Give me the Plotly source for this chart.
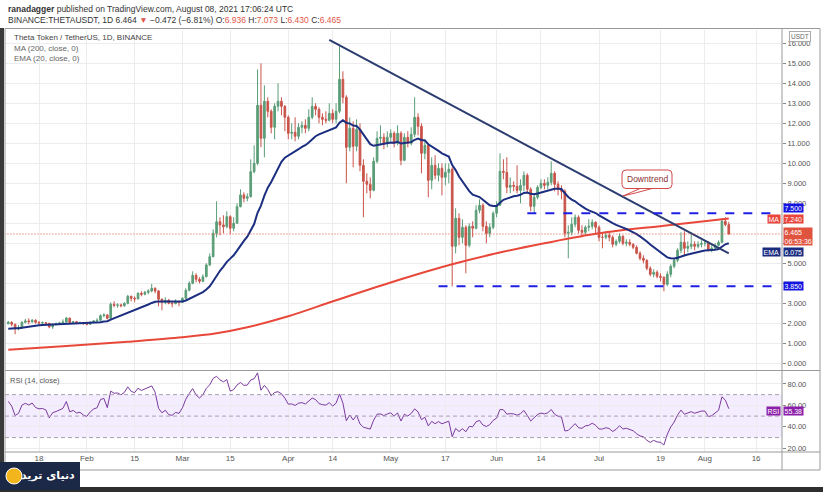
import pandas as pd
import plotly.graph_objects as go

# ---------------- DATA ----------------
start_date = "2021-01-09"
first_open = 1.98

jan_close = [2.05, 1.95, 1.72, 1.78, 2.05, 2.12, 2.08, 2.15, 2.05, 2.02, 2.03, 2.00, 1.82, 1.95, 1.98, 2.02, 2.06, 2.26, 2.04, 2.08, 2.02, 2.04, 1.98]
jan_high = [2.12, 2.10, 1.98, 1.92, 2.10, 2.22, 2.25, 2.22, 2.20, 2.10, 2.10, 2.06, 2.02, 2.00, 2.04, 2.07, 2.20, 2.32, 2.28, 2.12, 2.12, 2.08, 2.05]
jan_low = [1.95, 1.85, 1.45, 1.65, 1.72, 2.00, 1.95, 2.02, 1.98, 1.95, 1.95, 1.90, 1.75, 1.72, 1.90, 1.94, 1.98, 2.02, 1.98, 1.98, 1.96, 1.98, 1.93]

feb_close = [1.95, 2.05, 2.12, 2.15, 2.38, 2.42, 2.25, 2.95, 2.90, 2.92, 2.88, 3.00, 3.35, 3.25, 3.22, 3.50, 3.45, 3.55, 3.62, 3.75, 3.62, 3.20, 3.05, 3.15, 3.00, 2.98, 3.08, 3.05]
feb_high = [2.02, 2.10, 2.16, 2.25, 2.45, 2.50, 2.45, 3.05, 3.10, 3.00, 2.98, 3.05, 3.42, 3.38, 3.35, 3.55, 3.60, 3.62, 3.70, 3.97, 3.80, 3.65, 3.25, 3.30, 3.22, 3.10, 3.20, 3.12]
feb_low = [1.90, 1.94, 2.02, 2.05, 2.12, 2.30, 2.20, 2.22, 2.80, 2.78, 2.80, 2.82, 2.95, 3.10, 3.05, 3.20, 3.35, 3.40, 3.45, 3.55, 3.50, 2.85, 2.65, 2.95, 2.95, 2.80, 2.95, 2.85]

mar_close = [3.25, 3.65, 4.00, 4.40, 4.20, 4.10, 4.33, 4.92, 5.33, 6.50, 7.08, 6.92, 6.83, 7.33, 6.75, 7.00, 7.83, 8.42, 8.25, 8.33, 9.58, 10.00, 12.90, 11.25, 13.10, 12.60, 11.80, 12.85, 13.10, 12.85, 12.30]
mar_high = [3.30, 3.75, 4.10, 4.60, 4.50, 4.30, 4.45, 5.00, 5.50, 6.70, 8.10, 7.30, 7.40, 7.60, 7.40, 7.30, 8.00, 8.70, 8.55, 8.50, 10.20, 10.90, 14.70, 15.00, 13.90, 13.30, 12.70, 13.00, 14.00, 13.30, 12.90]
mar_low = [3.02, 3.20, 3.60, 3.95, 4.05, 4.00, 4.05, 4.30, 4.85, 5.30, 6.30, 6.40, 6.50, 6.75, 6.45, 6.60, 7.00, 7.80, 8.05, 8.10, 8.30, 9.50, 9.90, 10.80, 10.30, 12.30, 11.50, 11.20, 12.60, 12.40, 11.60]

apr_close = [11.50, 11.55, 11.35, 11.80, 11.90, 11.75, 12.30, 12.85, 12.70, 12.30, 12.20, 12.15, 12.50, 12.20, 12.60, 14.20, 13.30, 10.80, 11.75, 10.85, 11.70, 9.90, 9.10, 8.95, 8.65, 10.10, 11.25, 11.30, 11.00, 11.30]
apr_high = [12.40, 12.00, 12.30, 12.00, 12.10, 12.20, 12.70, 13.30, 13.00, 12.80, 12.50, 12.60, 13.00, 12.70, 13.00, 15.85, 14.60, 13.40, 12.30, 12.10, 12.20, 12.00, 10.20, 9.50, 9.30, 10.30, 11.60, 11.90, 11.50, 11.60]
apr_low = [11.20, 11.20, 11.10, 11.20, 11.50, 11.50, 11.60, 12.20, 12.40, 12.00, 11.90, 12.00, 12.10, 12.00, 12.00, 12.50, 13.00, 9.00, 10.60, 9.80, 10.60, 9.60, 7.30, 8.50, 8.25, 8.60, 10.00, 10.90, 10.70, 10.80]

may_close = [11.50, 11.00, 11.50, 10.15, 11.30, 11.00, 11.45, 12.30, 11.85, 10.50, 10.90, 9.15, 9.90, 9.40, 9.75, 9.30, 9.55, 9.70, 5.85, 7.25, 6.30, 6.80, 5.90, 6.85, 6.75, 7.65, 7.90, 6.85, 6.50, 6.80, 7.50]
may_high = [11.70, 11.60, 11.90, 11.60, 11.50, 11.60, 11.80, 13.30, 12.50, 12.00, 11.20, 11.00, 10.30, 10.40, 10.00, 10.00, 10.00, 10.00, 9.80, 7.75, 7.50, 7.20, 6.90, 7.00, 7.10, 7.90, 8.20, 8.00, 7.10, 7.00, 7.60]
may_low = [11.10, 10.80, 10.90, 9.90, 10.10, 10.80, 10.90, 11.30, 11.40, 9.50, 10.20, 8.30, 8.70, 9.20, 9.10, 8.40, 8.90, 9.00, 3.85, 5.50, 5.90, 6.00, 4.50, 5.80, 6.30, 6.70, 7.50, 6.60, 6.00, 6.30, 6.70]

jun_close = [7.90, 9.60, 9.55, 8.80, 8.90, 8.85, 8.65, 8.90, 9.40, 8.70, 7.85, 8.30, 8.80, 9.00, 8.90, 9.05, 9.50, 8.95, 8.70, 8.60, 6.50, 6.55, 6.95, 7.30, 6.65, 6.55, 6.80, 6.85, 7.05, 6.80]
jun_high = [8.10, 10.50, 10.20, 10.30, 9.30, 9.10, 9.90, 9.20, 9.60, 9.50, 8.80, 8.50, 8.90, 9.20, 9.20, 9.30, 10.10, 9.60, 9.10, 8.90, 8.70, 6.90, 7.30, 7.45, 7.40, 6.90, 6.90, 7.20, 7.20, 7.10]
jun_low = [7.30, 7.90, 9.20, 8.50, 8.50, 8.60, 8.50, 8.00, 8.60, 8.50, 7.60, 7.50, 8.20, 8.70, 8.70, 8.70, 8.90, 8.60, 8.40, 8.20, 6.30, 5.25, 6.40, 6.80, 6.50, 6.30, 6.40, 6.60, 6.70, 6.50]

jul_close = [6.30, 6.30, 6.40, 6.30, 5.95, 6.10, 6.35, 6.00, 6.05, 5.95, 5.80, 5.50, 5.25, 5.15, 4.75, 4.45, 4.55, 4.35, 4.30, 3.95, 4.45, 4.85, 5.15, 5.65, 6.05, 5.75, 5.85, 5.95, 5.85, 5.95, 6.00]
jul_high = [6.90, 6.50, 6.60, 6.60, 6.40, 6.20, 6.50, 6.40, 6.20, 6.20, 6.00, 5.90, 5.60, 5.40, 5.20, 4.85, 4.70, 4.65, 4.50, 4.35, 4.60, 4.95, 5.25, 5.75, 6.55, 6.60, 6.10, 6.55, 6.10, 6.10, 6.15]
jul_low = [6.10, 5.75, 6.20, 6.10, 5.80, 5.85, 6.00, 5.90, 5.85, 5.85, 5.70, 5.45, 5.15, 5.00, 4.65, 4.35, 4.30, 4.25, 4.10, 3.60, 3.85, 4.30, 4.75, 5.05, 5.50, 5.40, 5.55, 5.70, 5.65, 5.75, 5.80]

aug_close = [6.00, 5.70, 5.75, 5.90, 6.05, 7.10, 6.936, 6.465]
aug_high = [6.15, 6.10, 5.90, 6.00, 6.15, 7.25, 7.30, 7.073]
aug_low = [5.85, 5.60, 5.55, 5.70, 5.85, 6.00, 6.85, 6.430]

# 200-day MA
ma200_dates = ["2021-01-09", "2021-01-25", "2021-02-13", "2021-03-01", "2021-03-11", "2021-03-20", "2021-04-01",
               "2021-04-15", "2021-05-04", "2021-05-19", "2021-06-01", "2021-06-15", "2021-07-01", "2021-07-20", "2021-08-08"]
ma200_values = [0.68, 0.85, 1.08, 1.30, 1.50, 1.80, 2.35, 3.15, 4.20, 4.95, 5.50, 6.00, 6.50, 6.88, 7.24]

ema_seed = 1.70
rsi_seed_gain, rsi_seed_loss = 0.065, 0.040

trend_dates = ["2021-04-13", "2021-08-08"]
trend_prices = [16.17, 5.50]
level_values = [7.5, 3.85]
level_starts = ["2021-06-10", "2021-05-15"]
level_end = "2021-08-21"
last_price = 6.465
ema_label = "6.075"
ma_label = "7.240"
rsi_label = "55.38"
countdown = "06:53:36"

x_tickvals = ["2021-01-18", "2021-02-01", "2021-02-15", "2021-03-01", "2021-03-15", "2021-04-01", "2021-04-14",
              "2021-05-01", "2021-05-17", "2021-06-01", "2021-06-14", "2021-07-01", "2021-07-19", "2021-08-01", "2021-08-16"]
x_ticktext = ["18", "Feb", "15", "Mar", "15", "Apr", "14", "May", "17", "Jun", "14", "Jul", "19", "Aug", "16"]
price_ticks = list(range(0, 17))
price_hidden = [4, 6, 7]          # tick labels covered by the axis boxes in the original
rsi_ticks = [20, 40, 60, 80]

# ---------------- DERIVED ----------------
close = jan_close + feb_close + mar_close + apr_close + may_close + jun_close + jul_close + aug_close
high = jan_high + feb_high + mar_high + apr_high + may_high + jun_high + jul_high + aug_high
low = jan_low + feb_low + mar_low + apr_low + may_low + jun_low + jul_low + aug_low
opens = [first_open] + close[:-1]
dates = pd.date_range(start_date, periods=len(close), freq="D")

alpha = 2 / 21
ema, prev = [], ema_seed
for c in close:
    prev = alpha * c + (1 - alpha) * prev
    ema.append(prev)

rsi, ag, al, pc = [], rsi_seed_gain, rsi_seed_loss, first_open
for c in close:
    ch = c - pc
    ag = (ag * 13 + max(ch, 0)) / 14
    al = (al * 13 + max(-ch, 0)) / 14
    rsi.append(100 - 100 / (1 + ag / al))
    pc = c

price_ticktext = ["" if v in price_hidden else f"{v:.3f}" for v in price_ticks]

# ---------------- STYLE / LAYOUT ----------------
W, H = 823, 492
ML, MR, MT, MB = 5, 41, 30, 40
PW, PH = W - ML - MR, H - MT - MB


def px(x):
    return (x - ML) / PW


def py(y):
    return (H - MB - y) / PH


UP, DOWN = "#5a9e78", "#c9544a"
FONT = "Liberation Sans"
GRID = "#ececec"

fig = go.Figure()
fig.add_trace(go.Candlestick(x=dates, open=opens, high=high, low=low, close=close,
                             increasing=dict(line=dict(color=UP, width=1), fillcolor=UP),
                             decreasing=dict(line=dict(color=DOWN, width=1), fillcolor=DOWN),
                             whiskerwidth=0, hoverinfo="skip", yaxis="y"))
fig.add_trace(go.Scatter(x=pd.to_datetime(ma200_dates), y=ma200_values, mode="lines", line=dict(color="#e8483a", width=2, shape="spline"), yaxis="y"))
fig.add_trace(go.Scatter(x=dates, y=ema, mode="lines", line=dict(color="#1c2e80", width=2), yaxis="y"))
fig.add_trace(go.Scatter(x=pd.to_datetime(trend_dates), y=trend_prices, mode="lines", line=dict(color="#2b3c70", width=2), yaxis="y"))
for lv, st in zip(level_values, level_starts):
    fig.add_trace(go.Scatter(x=pd.to_datetime([st, level_end]), y=[lv, lv], mode="lines",
                             line=dict(color="#1f1fe6", width=2, dash="dash"), yaxis="y"))
fig.add_trace(go.Scatter(x=[dates[0] - pd.Timedelta(days=2), pd.Timestamp("2021-08-25")], y=[last_price, last_price], mode="lines",
                         line=dict(color="#e0533e", width=1, dash="1px,2px"), yaxis="y"))
fig.add_trace(go.Scatter(x=dates, y=rsi, mode="lines", line=dict(color="#7b3a9e", width=1), yaxis="y2"))

shapes = []
shapes.append(dict(type="rect", xref="paper", yref="y2", x0=0, x1=1, y0=30, y1=70, fillcolor="rgba(170,110,255,0.13)", line=dict(width=0), layer="below"))
for lv in (70, 50, 30):
    shapes.append(dict(type="line", xref="paper", yref="y2", x0=0, x1=1, y0=lv, y1=lv, line=dict(color="#a9a0b0", width=1, dash="4px,3px")))
shapes.append(dict(type="line", xref="paper", yref="paper", x0=px(5), x1=px(820), y0=py(370.5), y1=py(370.5), line=dict(color="#9a9a9a", width=1)))
shapes.append(dict(type="rect", xref="paper", yref="paper", x0=px(5), x1=px(820), y0=py(470), y1=py(28.5), line=dict(color="#9a9a9a", width=1)))
shapes.append(dict(type="line", xref="paper", yref="paper", x0=px(5), x1=px(820), y0=py(452), y1=py(452), line=dict(color="#9a9a9a", width=1)))
shapes.append(dict(type="line", xref="paper", yref="paper", x0=px(782), x1=px(782), y0=py(470), y1=py(28.5), line=dict(color="#9a9a9a", width=1)))
shapes.append(dict(type="rect", xref="paper", yref="paper", x0=px(0), x1=px(4), y0=py(488), y1=py(28), fillcolor="#3a3a3a", line=dict(width=0)))
shapes.append(dict(type="rect", xref="paper", yref="paper", x0=px(0), x1=px(823), y0=py(492), y1=py(487), fillcolor="#2e2e2e", line=dict(width=0)))
shapes.append(dict(type="rect", xref="paper", yref="paper", x0=px(0), x1=px(80), y0=py(490), y1=py(462), fillcolor="#1b2846", line=dict(width=0)))
shapes.append(dict(type="circle", xref="paper", yref="paper", x0=px(6), x1=px(22), y0=py(484), y1=py(468), fillcolor="#f2b51c", line=dict(color="#ffffff", width=1)))


def rrect(x0, y0, x1, y1, r):
    X0, X1 = px(x0), px(x1)
    Y0, Y1 = py(y0), py(y1)
    rx, ry = r / PW, r / PH
    return (f"M {X0+rx},{Y0} L {X1-rx},{Y0} Q {X1},{Y0} {X1},{Y0-ry} L {X1},{Y1+ry} Q {X1},{Y1} {X1-rx},{Y1} "
            f"L {X0+rx},{Y1} Q {X0},{Y1} {X0},{Y1+ry} L {X0},{Y0-ry} Q {X0},{Y0} {X0+rx},{Y0} Z")


shapes.append(dict(type="path", xref="paper", yref="paper", path=rrect(622, 170, 672, 188.5, 4), fillcolor="#ffffff", line=dict(color="#d24a4a", width=1)))
tail = (f"M {px(640)},{py(188.5)} Q {px(632)},{py(192)} {px(623)},{py(196)} Q {px(636)},{py(193)} {px(652)},{py(188.5)}")
shapes.append(dict(type="path", xref="paper", yref="paper", path=tail, line=dict(color="#d24a4a", width=1)))

ann = []


def text(x, y, t, size=8, color="#444", xanchor="left", family=FONT, **kw):
    ann.append(dict(xref="paper", yref="paper", x=px(x), y=py(y), text=t, showarrow=False, xanchor=xanchor, yanchor="middle",
                    font=dict(family=family, size=size, color=color), **kw))


R = "#e0564a"
text(6, 9, "<b>ranadagger</b> published on TradingView.com, August 08, 2021 17:06:24 UTC", size=8.5, color="#333")
text(6, 20, f"BINANCE:THETAUSDT, 1D 6.464 <span style='color:{R}'>▼</span> −0.472 (−6.81%) O:<span style='color:{R}'>6.936</span> "
            f"H:<span style='color:{R}'>7.073</span> L:<span style='color:{R}'>6.430</span> C:<span style='color:{R}'>6.465</span>", size=8.5, color="#333")
text(12, 38, "Theta Token / TetherUS, 1D, BINANCE", size=8, color="#444")
text(12, 48, "MA (200, close, 0)", size=8, color="#666")
text(12, 58, "EMA (20, close, 0)", size=8, color="#666")
text(8, 380, "RSI (14, close)", size=7.5, color="#555")
text(647, 179, "Downtrend", size=8.5, color="#8a2f2f", xanchor="center")
text(800, 36, "USDT", size=6.5, color="#666", xanchor="center", bgcolor="#ffffff", bordercolor="#aaaaaa", borderwidth=1, borderpad=1)


def box(x, y, t, bg, xanchor="left"):
    text(x, y, t, size=7, color="#ffffff", xanchor=xanchor, bgcolor=bg, borderpad=0.5)


BLUE = "#1414e0"
box(783, 208.5, f"{level_values[0]:.3f}", BLUE)
box(783, 219, ma_label, "#e8453c")
box(781, 219, "MA", "#e8453c", xanchor="right")
ann.append(dict(xref="paper", yref="paper", x=px(783), y=py(236.5), text=f"{last_price:.3f}<br>{countdown}", showarrow=False, xanchor="left", yanchor="middle",
                align="left", bgcolor="#e0533e", borderpad=0.5, font=dict(family=FONT, size=7, color="#ffffff")))
box(783, 252, ema_label, "#1a2c80")
box(781, 252, "EMA", "#1a2c80", xanchor="right")
box(783, 286.3, f"{level_values[1]:.3f}", BLUE)
box(783, 411, rsi_label, "#8b1fa9")
box(781, 411, "RSI", "#8b1fa9", xanchor="right")
text(77, 476, "<b>دنیای ترید</b>", size=11, color="#ffffff", xanchor="right", family="DejaVu Sans")

fig.update_layout(
    width=W, height=H, margin=dict(l=ML, r=MR, t=MT, b=MB), paper_bgcolor="#ffffff", plot_bgcolor="#ffffff",
    showlegend=False, shapes=shapes, annotations=ann, hovermode=False,
    xaxis=dict(type="date", range=["2021-01-08 01:00", "2021-08-23 14:00"], anchor="y2", tickvals=x_tickvals, ticktext=x_ticktext,
               showgrid=True, gridcolor=GRID, gridwidth=1, zeroline=False, showline=False, ticks="", rangeslider=dict(visible=False),
               tickfont=dict(family=FONT, size=8, color="#555")),
    yaxis=dict(domain=[py(370), 1], range=[-0.335, 16.665], side="right", tickvals=price_ticks, ticktext=price_ticktext,
               showgrid=True, gridcolor=GRID, zeroline=False, ticks="outside", ticklen=3, tickcolor="#888",
               tickfont=dict(family=FONT, size=7.5, color="#555")),
    yaxis2=dict(domain=[0, py(372)], range=[16.55, 91.1], side="right", tickvals=rsi_ticks, tickformat=".2f",
                showgrid=True, gridcolor=GRID, zeroline=False, ticks="outside", ticklen=3, tickcolor="#888",
                tickfont=dict(family=FONT, size=7.5, color="#555")),
)

fig.write_html("out.html", include_plotlyjs=True, config={"displayModeBar": False},
               post_script="document.body.style.margin='0';document.body.style.overflow='hidden';")
